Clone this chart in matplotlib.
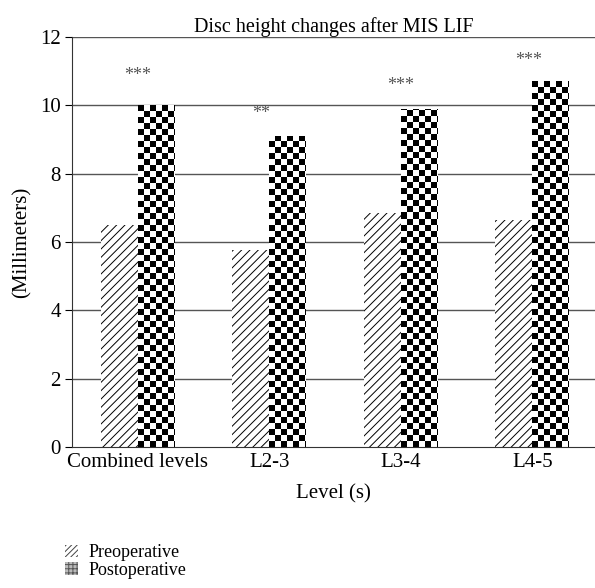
import numpy as np
import matplotlib
matplotlib.use("Agg")
import matplotlib.pyplot as plt
from matplotlib.patches import Patch

categories = ["Combined levels", "L2-3", "L3-4", "L4-5"]
preoperative = [6.5, 5.77, 6.85, 6.65]
postoperative = [10.0, 9.1, 9.9, 10.7]
stars = ["***", "**", "***", "***"]
star_y = [10.86, 9.75, 10.57, 11.3]
star_dx = [0.0, -0.06, 0.0, -0.03]

plt.rcParams['font.family'] = ['Liberation Serif', 'DejaVu Serif']
plt.rcParams['hatch.linewidth'] = 0.7

fig = plt.figure(figsize=(5.95, 5.88), dpi=100)
W, H = 595, 588
ax = fig.add_axes([72 / W, 1 - 447 / H, (595 - 72) / W, (447 - 37) / H])

x = np.arange(len(categories))
w = 0.28
XMAX = 3.477
ax.set_xlim(-0.5, XMAX)
ax.set_ylim(0, 12)
ax.set_yticks(range(0, 13, 2))
for yv in range(2, 13, 2):
    ax.axhline(yv, color='#555555', lw=1.0, zorder=1)

pre_bars = ax.bar(x - w / 2, preoperative, w, color='white', edgecolor='black',
                  linewidth=0, hatch='////', zorder=2)
post_bars = ax.bar(x + w / 2, postoperative, w, color='none', edgecolor='none',
                   linewidth=0, zorder=2)

# checkerboard fill for postoperative bars
cell_px = 6.0
ax_w_px = (595 - 72)
ax_h_px = (447 - 37)
nx = int(np.ceil(ax_w_px / cell_px))
ny = int(np.ceil(ax_h_px / cell_px))
ii, jj = np.meshgrid(np.arange(nx), np.arange(ny))
checker = ((ii + jj) % 2).astype(float)
x_unit = (XMAX + 0.5) / ax_w_px
for b in post_bars:
    x0 = b.get_x()
    extent = [x0, x0 + nx * cell_px * x_unit, 0, ny * cell_px * 12 / ax_h_px]
    im = ax.imshow(checker, cmap='gray', vmin=0, vmax=1, extent=extent,
                   origin='lower', interpolation='nearest', aspect='auto', zorder=2)
    im.set_clip_path(b)
ax.set_xlim(-0.5, XMAX)
ax.set_ylim(0, 12)

for xi, s, sy, dx in zip(x, stars, star_y, star_dx):
    ax.text(xi + dx, sy, s, ha='center', va='center', fontsize=13, color='#555555')

FS = 15
ax.set_xticks(x)
ax.set_xticklabels(categories, fontsize=FS)
ax.tick_params(axis='x', length=0, pad=4)
ax.tick_params(axis='y', length=5, direction='out', labelsize=FS, pad=3)
for sp in ['top', 'right']:
    ax.spines[sp].set_visible(False)
ax.spines['left'].set_color('#333333')
ax.spines['bottom'].set_color('#333333')
ax.set_ylabel("(Millimeters)", fontsize=FS, labelpad=6)
ax.set_xlabel("Level (s)", fontsize=FS, labelpad=9)
ax.set_title("Disc height changes after MIS LIF", fontsize=14.5, pad=2)

handles = [Patch(facecolor='white', edgecolor='#444444', hatch='//////', linewidth=0,
                 label='Preoperative'),
           Patch(facecolor='#bbbbbb', edgecolor='#555555', hatch='++++', linewidth=0,
                 label='Postoperative')]
fig.legend(handles=handles, loc='upper left', bbox_to_anchor=(58 / W, 1 - 537 / H),
           frameon=False, fontsize=13, handlelength=0.7, handleheight=0.7,
           handletextpad=0.6, labelspacing=0.05, borderaxespad=0)

fig.savefig("out.png", dpi=100)
